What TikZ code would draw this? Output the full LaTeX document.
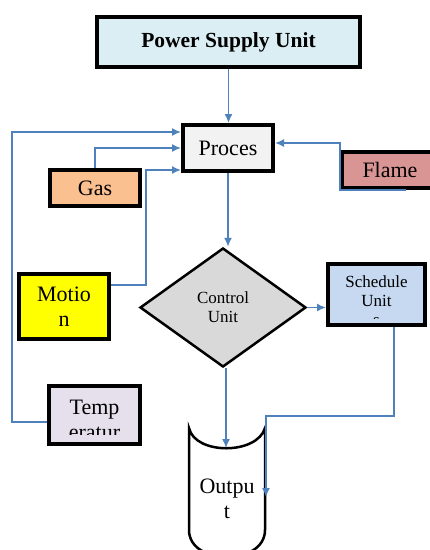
\documentclass[tikz,border=0pt]{standalone}
\usepackage{fontspec}
\setmainfont{Liberation Serif}
\usetikzlibrary{shapes.geometric,arrows.meta}
\definecolor{psublue}{HTML}{DAEEF3}
\definecolor{procgray}{HTML}{F2F2F2}
\definecolor{gasorange}{HTML}{FAC090}
\definecolor{flamered}{HTML}{D99594}
\definecolor{motionyellow}{HTML}{FFFF00}
\definecolor{tempviolet}{HTML}{E5E0EC}
\definecolor{schedblue}{HTML}{C6D9F1}
\definecolor{ctrlgray}{HTML}{D9D9D9}
\definecolor{linkblue}{HTML}{4F81BD}
\tikzset{
  unitbox/.style={draw=black,line width=4pt,inner sep=0pt,align=center,
    font=\fontsize{22}{25}\selectfont},
  smalltext/.style={align=center,inner sep=0pt,font=\fontsize{17}{19}\selectfont},
  link/.style={draw=linkblue,line width=1.6pt,-{Latex[length=9pt,width=8pt]}}
}

\begin{document}
\begin{tikzpicture}[x=1pt,y=-1pt]
      \useasboundingbox (0,0) rectangle (430,550);
      % source and process boxes
      \node[unitbox,fill=psublue,minimum width=263pt,minimum height=50pt,
        font=\fontsize{21.5}{24}\selectfont\bfseries] (psu) at (228.5,42) {Power Supply Unit};
      \node[unitbox,fill=procgray,minimum width=90pt,minimum height=46pt] (proces) at (228,148) {Proces};
      % sensors
      \node[unitbox,fill=gasorange,minimum width=90pt,minimum height=36pt] (gas) at (95,188) {Gas};
      \node[unitbox,fill=flamered,minimum width=96pt,minimum height=36pt] (flame) at (390,170) {Flame};
      \node[unitbox,fill=motionyellow,minimum width=90pt,minimum height=65pt] (motion) at (64,306.5) {Motio\\n};
      \node[unitbox,fill=tempviolet,minimum width=91pt,minimum height=58pt] (temp) at (94.5,415) {};
      \begin{scope}
        \clip (50,388) rectangle (139,434);
        \node[unitbox,draw=none] (templbl) at (94.5,432.5) {Temp\\eratur\\e};
      \end{scope}
      % control and schedule
      \node[shape=diamond,draw=black,line width=2.5pt,fill=ctrlgray,inner sep=0pt,
        minimum width=166pt,minimum height=119pt,smalltext] (ctrl) at (223,307.5) {Control\\Unit};
      \node[unitbox,fill=schedblue,minimum width=97pt,minimum height=61pt] (sched) at (376.5,294.5) {};
      \begin{scope}
        \clip (330,266) rectangle (423,318);
        \node[smalltext] (schedlbl) at (376.5,301) {Schedule\\Unit\\s};
      \end{scope}
      % output drum, cut at the bottom
      \coordinate (outtop) at (226,448);
      \coordinate (outin) at (266,497);
      \draw[black,line width=2.5pt,fill=white] (189,428) .. controls (195,455) and (257,455) .. (265,428)
        -- (265,530) .. controls (265,566) and (189,566) .. (189,530) -- cycle;
      \node[unitbox,draw=none] (outlbl) at (227,499) {Outpu\\t};
      % connectors
      \draw[link] (psu.south) -- (psu.south |- proces.north);
      \draw[link] (temp.west |- 0,422) -| (12,132) -- (proces.west |- 0,132);
      \draw[link] (gas.north) |- (proces.west |- 0,148);
      \draw[link] (motion.east |- 0,285) -| (146,170) -- (proces.west |- 0,170);
      \draw[link] (flame.south west) ++(66,0) -- (flame.south west) |- (proces.east |- 0,143);
      \draw[link] (proces.south) -- (proces.south |- ctrl.north);
      \draw[link] (ctrl.east) -- (sched.west |- ctrl.east);
      \draw[link] (outtop |- ctrl.south) -- (outtop);
      \draw[link] (sched.south -| 394,0) |- (266,416) -- (outin);
    \end{tikzpicture}
\end{document}
